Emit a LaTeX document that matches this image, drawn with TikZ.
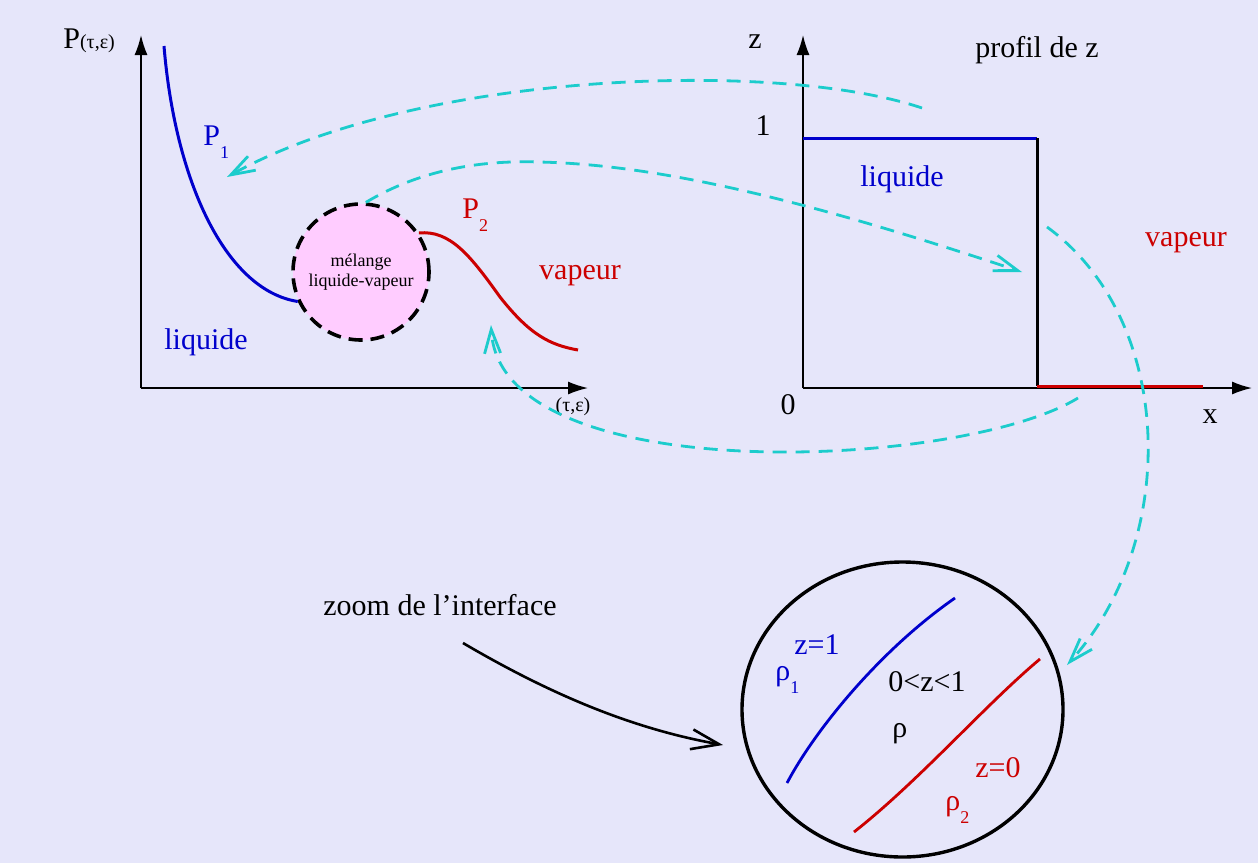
\documentclass[tikz,border=0pt]{standalone}
\usepackage{fontspec}
\setmainfont{Liberation Serif}
\usepackage{xcolor}
\usetikzlibrary{arrows.meta,shapes.geometric}
\definecolor{bg}{RGB}{230,230,250}
\definecolor{liq}{RGB}{0,0,204}
\definecolor{vap}{RGB}{204,0,0}
\definecolor{flow}{RGB}{28,204,204}
\definecolor{mixfill}{RGB}{255,204,255}
\newcommand{\lowsub}[1]{\raisebox{-6.5pt}{\fontsize{9}{9}\selectfont #1}}

\begin{document}
\begin{tikzpicture}[
    x=0.5pt, y=-0.5pt,
    lbl/.style={inner sep=0pt, font=\fontsize{15}{18}\selectfont},
    small/.style={inner sep=0pt, font=\fontsize{10}{10}\selectfont},
    axis/.style={line width=0.8pt, -{Latex[length=10pt,width=6.5pt]}},
    curve/.style={line width=1.5pt},
    profile/.style={line width=1.5pt},
    flowarrow/.style={flow, line width=1.4pt, dash pattern=on 7pt off 4.5pt,
                      -{Straight Barb[length=12pt,width=8pt]}},
    zoomarrow/.style={line width=1.3pt, -{Straight Barb[length=14pt,width=10pt]}},
]
    \fill[bg] (0,0) rectangle (1258,863);

    % left diagram: P(tau,eps)
    \coordinate (o1) at (141,388);
    \coordinate (ytip1) at (141,35);
    \coordinate (xtip1) at (588,388);
    \draw[axis] (o1) -- (ytip1);
    \draw[axis] (o1) -- (xtip1);
    \node[lbl, anchor=base west] (pname) at (63,48) {P{\fontsize{10}{10}\selectfont(τ,ε)}};
    \node[small] (tename) at (573,407) {(τ,ε)};

    \node[circle, draw, fill=mixfill, minimum size=68pt, line width=1.8pt,
          dash pattern=on 7pt off 4pt, inner sep=0pt, align=center,
          font=\fontsize{9}{10}\selectfont] (mix) at (361,272) {mélange\\liquide-vapeur};

    \draw[liq, curve] (164,46) .. controls (175,180) and (225,290) .. (mix.205);
    \draw[vap, curve] (mix.34) .. controls (450,230) and (470,255) .. (500,297)
        .. controls (530,335) and (550,345) .. (578,350);

    \node[lbl, liq, anchor=base west] (p1) at (203,145) {P\lowsub{1}};
    \node[lbl, vap, anchor=base west] (p2) at (462,218) {P\lowsub{2}};
    \node[lbl, liq] (liqa) at (206,342) {liquide};
    \node[lbl, vap] (vapa) at (580,276) {vapeur};

    % right diagram: profile of z
    \coordinate (o2) at (803,388);
    \coordinate (ytip2) at (803,35);
    \coordinate (xtip2) at (1252,388);
    \draw[axis] (o2) -- (ytip2);
    \draw[axis] (o2) -- (xtip2);
    \coordinate (s1) at (803,138);
    \coordinate (s2) at (1037,138);
    \coordinate (s3) at (1037,386);
    \coordinate (s4) at (1203,386);
    \draw[liq, profile] (s1) -- (s2);
    \draw[profile] (s2) -- (s3);
    \draw[vap, profile] (s3) -- (s4);

    \node[lbl] (zname) at (755,42) {z};
    \node[lbl] (one) at (763,126) {1};
    \node[lbl] (zero) at (788,405) {0};
    \node[lbl] (xname) at (1210,417) {x};
    \node[lbl] (title) at (1037,50) {profil de z};
    \node[lbl, liq] (liqb) at (902,179) {liquide};
    \node[lbl, vap] (vapb) at (1186,243) {vapeur};

    % zoom of the interface
    \node[ellipse, draw, line width=1.7pt, minimum width=160.5pt,
          minimum height=147.5pt] (zoomc) at (902.5,709.5) {};
    \draw[liq, line width=1.4pt] (787,783) .. controls (815,730) and (880,650) .. (955,598);
    \draw[vap, line width=1.4pt] (854,832) .. controls (920,780) and (985,705) .. (1040,659);

    \node[lbl, liq] (zonea) at (817,645) {z=1};
    \node[lbl, liq, anchor=base west] (rho1) at (775,680) {ρ\lowsub{1}};
    \node[lbl] (zmid) at (927,682) {0<z<1};
    \node[lbl, anchor=base west] (rho) at (892,737) {ρ};
    \node[lbl, vap] (zzero) at (998,768) {z=0};
    \node[lbl, vap, anchor=base west] (rho2) at (945,810) {ρ\lowsub{2}};

    \node[lbl] (zoomtxt) at (440,605) {zoom de l’interface};
    \coordinate (zstart) at (463,643);
    \coordinate (ztip) at (723,745);
    \draw[zoomarrow] (zstart) .. controls (560,700) and (640,730) .. (ztip);

    % cyan links
    \coordinate (a1s) at (922,108);
    \coordinate (a1e) at (227,177);
    \coordinate (a2m) at (539,162);
    \coordinate (a2e) at (1022,272);
    \coordinate (a3s) at (1078,398);
    \coordinate (a3e) at (491,325);
    \coordinate (a4s) at (1047,227);
    \coordinate (a4e) at (1067,665);
    \draw[flowarrow] (a1s) .. controls (780,60) and (420,70) .. (a1e);
    \draw[flowarrow] (mix.86) .. controls (420,170) and (480,160) .. (a2m)
        .. controls (680,165) and (850,215) .. (a2e);
    \draw[flowarrow] (a3s) .. controls (960,470) and (500,490) .. (a3e);
    \draw[flowarrow] (a4s) .. controls (1175,320) and (1180,540) .. (a4e);
\end{tikzpicture}
\end{document}
